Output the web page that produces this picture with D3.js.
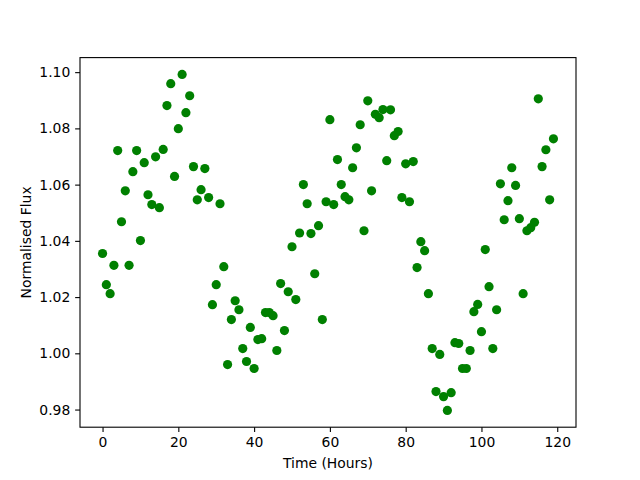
<!DOCTYPE html>
<html>
<head>
<meta charset="utf-8">
<script src="https://cdn.jsdelivr.net/npm/d3@7"></script>
<style>
  html, body { margin: 0; padding: 0; background: #fff; }
  svg { display: block; }
  text { font-family: "DejaVu Sans", sans-serif; }
</style>
</head>
<body>
<svg id="chart" width="640" height="480"></svg>
<script>
// Time in hours (0..119)
const hours = d3.range(0, 120);
// Normalised flux values
const flux = [
  1.0355, 1.0244, 1.0212, 1.0313, 1.0721, 1.0468, 1.0578, 1.0313, 1.0646, 1.0721,
  1.0401, 1.0678, 1.0564, 1.0529, 1.0699, 1.0518, 1.0725, 1.0881, 1.0959, 1.0629,
  1.0799, 1.0992, 1.0856, 1.0916, 1.0664, 1.0546, 1.0582, 1.0657, 1.0554, 1.0173,
  1.0244, 1.0532, 1.0308, 0.9960, 1.0120, 1.0187, 1.0155, 1.0017, 0.9971, 1.0092,
  0.9946, 1.0049, 1.0052, 1.0145, 1.0145, 1.0134, 1.0010, 1.0248, 1.0081, 1.0219,
  1.0379, 1.0191, 1.0428, 1.0600, 1.0532, 1.0426, 1.0283, 1.0454, 1.0120, 1.0539,
  1.0831, 1.0529, 1.0689, 1.0600, 1.0557, 1.0546, 1.0660, 1.0731, 1.0813, 1.0436,
  1.0898, 1.0578, 1.0850, 1.0838, 1.0867, 1.0685, 1.0866, 1.0774, 1.0789, 1.0554,
  1.0674, 1.0539, 1.0682, 1.0305, 1.0397, 1.0365, 1.0212, 1.0017, 0.9864, 0.9996,
  0.9846, 0.9797, 0.9860, 1.0038, 1.0035, 0.9946, 0.9946, 1.0010, 1.0148, 1.0174,
  1.0077, 1.0369, 1.0237, 1.0017, 1.0155, 1.0603, 1.0475, 1.0543, 1.0660, 1.0597,
  1.0479, 1.0212, 1.0436, 1.0447, 1.0466, 1.0905, 1.0664, 1.0724, 1.0546, 1.0763
];
const xTicks = [0, 20, 40, 60, 80, 100, 120];
const yTicks = [0.98, 1.00, 1.02, 1.04, 1.06, 1.08, 1.10];
const xLabel = "Time (Hours)";
const yLabel = "Normalised Flux";

(function () {
  const data = hours.map((h, i) => ({ x: h, y: flux[i] }));

  const svg = d3.select("#chart");
  const pL = 80, pR = 576, pT = 57.6, pB = 427.2;

  // matplotlib-like 5% margins
  const xMin = d3.min(hours), xMax = d3.max(hours);
  const xPad = (xMax - xMin) * 0.05;
  const yMin = d3.min(flux), yMax = d3.max(flux);
  const yPad = (yMax - yMin) * 0.05;

  const x = d3.scaleLinear().domain([xMin - xPad, xMax + xPad]).range([pL, pR]);
  const y = d3.scaleLinear().domain([yMin - yPad, yMax + yPad]).range([pB, pT]);

  const fontSize = 13.9;
  const tickLen = 4.86;

  // points
  svg.append("g")
    .selectAll("circle")
    .data(data)
    .enter()
    .append("circle")
    .attr("cx", d => x(d.x))
    .attr("cy", d => y(d.y))
    .attr("r", 4.6)
    .attr("fill", "#008000");

  // x axis
  const xAxis = d3.axisBottom(x).tickValues(xTicks).tickSize(tickLen).tickPadding(4.86).tickFormat(d3.format("d"));
  const gx = svg.append("g").attr("transform", `translate(0,${pB})`).call(xAxis);
  gx.select(".domain").remove();
  gx.selectAll("line").attr("stroke", "#000").attr("stroke-width", 1.1);
  gx.selectAll("text").attr("font-size", fontSize).attr("fill", "#000").attr("font-family", "DejaVu Sans");

  // y axis
  const yAxis = d3.axisLeft(y).tickValues(yTicks).tickSize(tickLen).tickPadding(4.86).tickFormat(d3.format(".2f"));
  const gy = svg.append("g").attr("transform", `translate(${pL},0)`).call(yAxis);
  gy.select(".domain").remove();
  gy.selectAll("line").attr("stroke", "#000").attr("stroke-width", 1.1);
  gy.selectAll("text").attr("font-size", fontSize).attr("fill", "#000").attr("font-family", "DejaVu Sans");

  // frame
  svg.append("rect")
    .attr("x", pL).attr("y", pT)
    .attr("width", pR - pL).attr("height", pB - pT)
    .attr("fill", "none").attr("stroke", "#000").attr("stroke-width", 1.1);

  // labels
  svg.append("text")
    .attr("x", (pL + pR) / 2).attr("y", 468)
    .attr("text-anchor", "middle")
    .attr("font-size", fontSize)
    .text(xLabel);

  svg.append("text")
    .attr("transform", `translate(31,${(pT + pB) / 2}) rotate(-90)`)
    .attr("text-anchor", "middle")
    .attr("font-size", fontSize)
    .text(yLabel);
})();
</script>
</body>
</html>
